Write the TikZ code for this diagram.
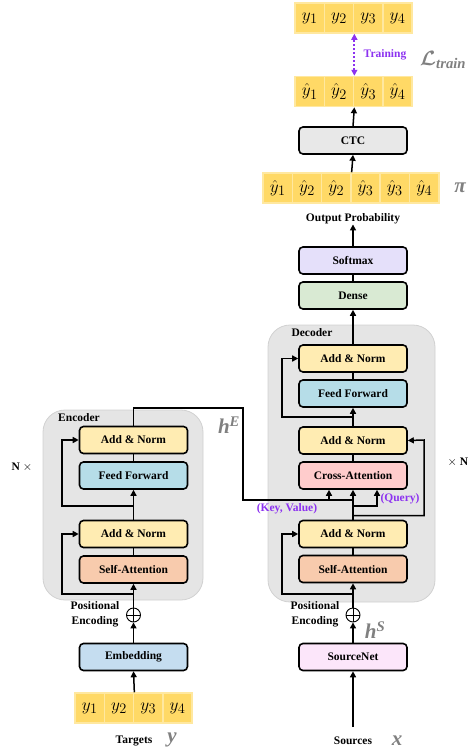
\documentclass[tikz,border=0pt]{standalone}
\usepackage{fontspec}
\setmainfont{Liberation Serif}
\usepackage{amsmath,bm}
\usetikzlibrary{arrows.meta}
\definecolor{cellfill}{RGB}{255,217,102}
\definecolor{celledge}{RGB}{255,232,160}
\definecolor{symgray}{RGB}{128,128,128}
\definecolor{keyviolet}{RGB}{140,50,240}
\tikzstyle{block}=[draw, line width=1.6pt, rounded corners=4pt, minimum width=108pt, minimum height=27pt, inner sep=0pt, font=\bfseries\fontsize{11.5}{13}\selectfont]
\tikzstyle{cell}=[draw=celledge, fill=cellfill, line width=1.5pt, minimum width=29.3pt, minimum height=30pt, inner sep=0pt, font=\fontsize{19}{21}\selectfont]
\tikzstyle{txt}=[inner sep=0pt, align=center, font=\bfseries\fontsize{11.5}{15}\selectfont]
\tikzstyle{sym}=[inner sep=0pt, text=symgray, font=\bfseries\itshape\fontsize{21}{23}\selectfont]
\tikzstyle{frame}=[fill=black!10, draw=black!18, line width=0.8pt, rounded corners=22pt]
\tikzstyle{flow}=[line width=1.5pt, -{Triangle[length=6pt,width=6pt]}]
\tikzstyle{wire}=[line width=1.5pt]
\tikzstyle{oplus}=[draw, circle, minimum size=14pt, inner sep=0pt, line width=0.9pt,
path picture={\draw[line width=0.9pt] (path picture bounding box.north) -- (path picture bounding box.south) (path picture bounding box.west) -- (path picture bounding box.east);}]

\begin{document}
\begin{tikzpicture}[x=1pt, y=-1pt]
\useasboundingbox (0,0) rectangle (474,753);

% gray containers
\node (encoder) [frame, minimum width=160pt, minimum height=190pt] at (123,505) {};
\node at (79,418) [txt] {Encoder};
\node (decoder) [frame, minimum width=167pt, minimum height=277pt] at (351.5,463.5) {};
\node at (312,333) [txt] {Decoder};

% target sequence
\node (yt1) at (309.65,18) [cell] {$y_1$};
\node (yt2) at (338.95,18) [cell] {$y_2$};
\node (yt3) at (368.25,18) [cell] {$y_3$};
\node (yt4) at (397.55,18) [cell] {$y_4$};

\node (yh1) at (309.65,91.5) [cell] {$\hat{y}_1$};
\node (yh2) at (338.95,91.5) [cell] {$\hat{y}_2$};
\node (yh3) at (368.25,91.5) [cell] {$\hat{y}_3$};
\node (yh4) at (397.55,91.5) [cell] {$\hat{y}_4$};

\node (ctc) at (353,140.5) [block, fill=black!9] {CTC};

% alignment pi
\node (pi1) at (277.65,188) [cell] {$\hat{y}_1$};
\node (pi2) at (306.95,188) [cell] {$\hat{y}_2$};
\node (pi3) at (336.25,188) [cell] {$\hat{y}_2$};
\node (pi4) at (365.55,188) [cell] {$\hat{y}_3$};
\node (pi5) at (394.85,188) [cell] {$\hat{y}_3$};
\node (pi6) at (424.15,188) [cell] {$\hat{y}_4$};
\node at (460,188) [sym] {π};

\node (outprob) at (353,219) [txt] {Output Probability};
\node (softmax) at (353,260.5) [block, fill={rgb,255:red,229;green,224;blue,250}] {Softmax};
\node (dense) at (353,295.5) [block, fill={rgb,255:red,217;green,234;blue,211}] {Dense};

% decoder stack
\node (dan1) at (353,358.5) [block, fill={rgb,255:red,255;green,236;blue,178}] {Add \& Norm};
\node (dff) at (353,393.5) [block, fill={rgb,255:red,182;green,221;blue,232}] {Feed Forward};
\node (dan2) at (353,440.5) [block, fill={rgb,255:red,255;green,236;blue,178}] {Add \& Norm};
\node (dcross) at (353,475.5) [block, fill={rgb,255:red,255;green,204;blue,204}] {Cross-Attention};
\node (dan3) at (353,534) [block, fill={rgb,255:red,255;green,236;blue,178}] {Add \& Norm};
\node (dsa) at (353,569) [block, fill={rgb,255:red,248;green,203;blue,173}] {Self-Attention};
\node (dplus) at (353,615) [oplus] {};
\node at (315,614) [txt] {Positional\\Encoding};
\node at (375,630) [sym] {h\textsuperscript{S}};
\node (src) at (353,657) [block, fill={rgb,255:red,252;green,230;blue,250}] {SourceNet};
\coordinate (srcin) at (353,727);
\node at (353,741) [txt] {Sources};
\node at (397,741) [sym] {x};

% encoder stack
\node (ean1) at (133.5,440) [block, fill={rgb,255:red,255;green,236;blue,178}] {Add \& Norm};
\node (eff) at (133.5,475.5) [block, fill={rgb,255:red,182;green,221;blue,232}] {Feed Forward};
\node (ean2) at (133.5,534) [block, fill={rgb,255:red,255;green,236;blue,178}] {Add \& Norm};
\node (esa) at (133.5,569.5) [block, fill={rgb,255:red,248;green,203;blue,173}] {Self-Attention};
\node (eplus) at (133.5,615) [oplus] {};
\node at (95,614) [txt] {Positional\\Encoding};
\node (emb) at (133.5,657) [block, fill={rgb,255:red,197;green,221;blue,240}] {Embedding};

\node (t1) at (89.65,708) [cell] {$y_1$};
\node (t2) at (118.95,708) [cell] {$y_2$};
\node (t3) at (148.25,708) [cell] {$y_3$};
\node (t4) at (177.55,708) [cell] {$y_4$};
\node at (134,741) [txt] {Targets};
\node at (172,740) [sym] {y};

\node at (22,467) [txt] {N $\times$};
\node at (458,462) [txt] {$\times$ N};
\node at (229,425) [sym] {h\textsuperscript{E}};
\node at (287,509) [txt, text=keyviolet] {(Key, Value)};
\node at (400,499) [txt, text=keyviolet] {(Query)};
\node at (385,55) [txt, text=keyviolet] {Training};
\node at (443,60) [sym] {$\bm{\mathcal{L}}$\textsubscript{train}};

% encoder connections
\draw [flow] (t2.north east) -- (emb.south);
\draw [flow] (emb.north) -- (eplus.south);
\draw [flow] (eplus.north) -- (esa.south);
\draw [flow] (133.5,594) -- (62,594) |- (ean2.west);
\draw [wire] (esa.north) -- (ean2.south);
\draw [flow] (ean2.north) -- (eff.south);
\draw [flow] (133.5,506) -- (62,506) |- (ean1.west);
\draw [wire] (eff.north) -- (ean1.south);

% encoder to decoder
\coordinate (kvjoin) at (353,500);
\coordinate (qsplit) at (353,506);
\draw [wire] (ean1.north) |- (243,408) -- (243,500) -- (kvjoin);
\draw [flow] (kvjoin) -- (dcross.south);
\draw [flow] (329,500) -- ([xshift=-24pt]dcross.south);

% decoder connections
\draw [flow] (srcin) -- (src.south);
\draw [flow] (src.north) -- (dplus.south);
\draw [flow] (dplus.north) -- (dsa.south);
\draw [flow] (353,594) -- (282,594) |- (dan3.west);
\draw [wire] (dsa.north) -- (dan3.south);
\draw [wire] (dan3.north) -- (qsplit) -- (kvjoin);
\draw [flow] (qsplit) -| ([xshift=24pt]dcross.south);
\draw [flow] ([yshift=4pt]dan3.north) -| (424,440) -- (dan2.east);
\draw [wire] (dcross.north) -- (dan2.south);
\draw [flow] (dan2.north) -- (dff.south);
\draw [flow] (353,417) -- (282,417) |- (dan1.west);
\draw [wire] (dff.north) -- (dan1.south);
\draw [flow] (dan1.north) -- (dense.south);
\draw [wire] (dense.north) -- (softmax.south);
\draw [flow] (softmax.north) -- (outprob.south);
\draw [flow] (pi3.north east) -- (ctc.south);
\draw [flow] (ctc.north) -- (yh2.south east);
\draw [keyviolet, line width=2pt, dotted, {Triangle[length=6pt,width=6pt]}-{Triangle[length=6pt,width=6pt]}] (yh2.north east) -- (yt2.south east);
\end{tikzpicture}
\end{document}
